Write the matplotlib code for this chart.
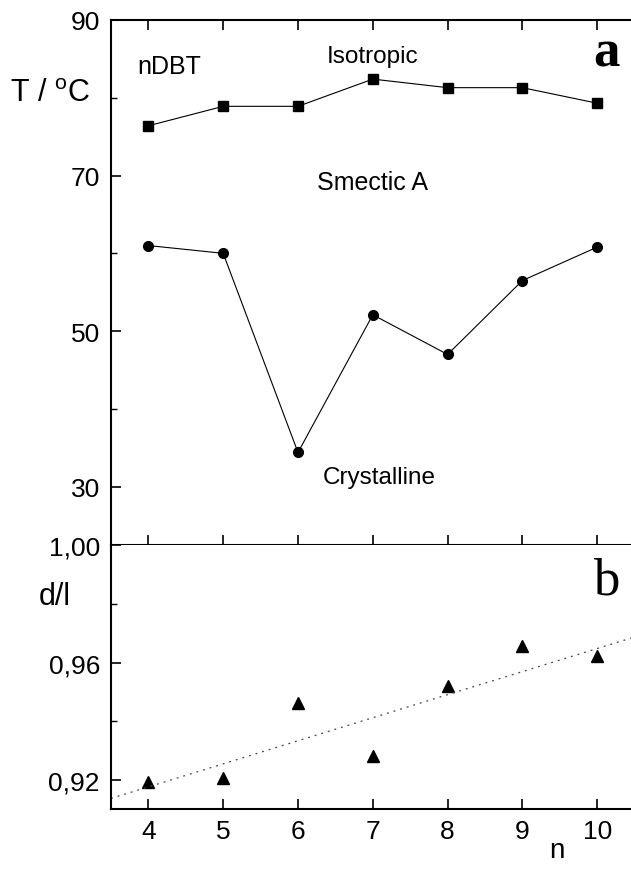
import numpy as np
import matplotlib
matplotlib.use("Agg")
import matplotlib.pyplot as plt
from matplotlib.ticker import FixedLocator, FuncFormatter

plt.rcParams['font.family'] = ['Liberation Sans', 'DejaVu Sans']
plt.rcParams['mathtext.fontset'] = 'custom'
plt.rcParams['mathtext.rm'] = 'Liberation Sans'

# data
n = [4, 5, 6, 7, 8, 9, 10]
t_iso = [76.4, 78.9, 78.9, 82.4, 81.3, 81.3, 79.3]
t_cryst = [61.0, 60.0, 34.4, 52.1, 47.0, 56.5, 60.8]
d_ratio = [0.9194, 0.9206, 0.9463, 0.9282, 0.9522, 0.9655, 0.9624]
fit_n = [3.5, 10.5]
fit_d = [0.9138, 0.9687]

W, H = 631, 870
fig = plt.figure(figsize=(W / 100, H / 100), dpi=100)

# axes boxes in pixels -> figure fraction
left = 111 / W
width = 523.6 / W
ax1 = fig.add_axes([left, 1 - 546 / H, width, 525 / H])
ax2 = fig.add_axes([left, 1 - 810 / H, width, 264 / H])

for ax in (ax1, ax2):
    ax.set_xlim(3.5, 10.5)
    ax.spines['right'].set_visible(False)
    for s in ax.spines.values():
        s.set_linewidth(1.5)
    ax.tick_params(which='major', direction='in', length=7.5, width=1.2,
                   labelsize=19, pad=8)
    ax.tick_params(which='minor', direction='in', length=4, width=1.0)
    ax.xaxis.set_major_locator(FixedLocator(n))

# top panel: transition temperatures
ax1.plot(n, t_iso, '-', color='black', lw=0.8, marker='s', ms=6.5)
ax1.plot(n, t_cryst, '-', color='black', lw=0.8, marker='o', ms=7)
ax1.set_ylim(22.5, 90)
ax1.yaxis.set_major_locator(FixedLocator([30, 50, 70, 90]))
ax1.yaxis.set_minor_locator(FixedLocator([40, 60, 80]))
ax1.tick_params(axis='x', top=True, bottom=True, labelbottom=False)

ax1.text(3.856, 83.2, 'nDBT', fontsize=18, ha='left', va='baseline')
ax1.text(7.0, 84.64, 'Isotropic', fontsize=17.5, ha='center', va='baseline')
ax1.text(7.0, 68.26, 'Smectic A', fontsize=18, ha='center', va='baseline')
ax1.text(7.09, 30.45, 'Crystalline', fontsize=17.5, ha='center', va='baseline')
ax1.text(10.12, 84.2, 'a', fontsize=38, fontweight='bold', ha='center',
         va='baseline', family='Liberation Serif')

# bottom panel: layer spacing ratio
ax2.spines['top'].set_visible(False)
ax2.plot(n, d_ratio, '^', color='black', ms=8, ls='none')
ax2.plot(fit_n, fit_d, color='#444444', lw=0.9, ls=(0, (1.5, 4)))
ax2.set_ylim(0.9102, 1.0)
ax2.yaxis.set_major_locator(FixedLocator([0.92, 0.96, 1.00]))
ax2.yaxis.set_minor_locator(FixedLocator([0.94, 0.98]))
ax2.yaxis.set_major_formatter(FuncFormatter(lambda v, p: f"{v:.2f}".replace('.', ',')))
ax2.tick_params(axis='x', top=False, bottom=True, pad=7)
ax2.text(10.12, 0.9834, 'b', fontsize=38, ha='center', va='baseline',
         family='Liberation Serif')

# axis labels
fig.text(10 / W, 1 - 102 / H, r'T / $\mathregular{^o}$C', fontsize=22,
         ha='left', va='baseline')
fig.text(39 / W, 1 - 605 / H, 'd/l', fontsize=22, ha='left', va='baseline')
fig.text(557 / W, 1 - 864 / H, 'n', fontsize=20, ha='center', va='bottom')

fig.savefig('out.png', dpi=100)
